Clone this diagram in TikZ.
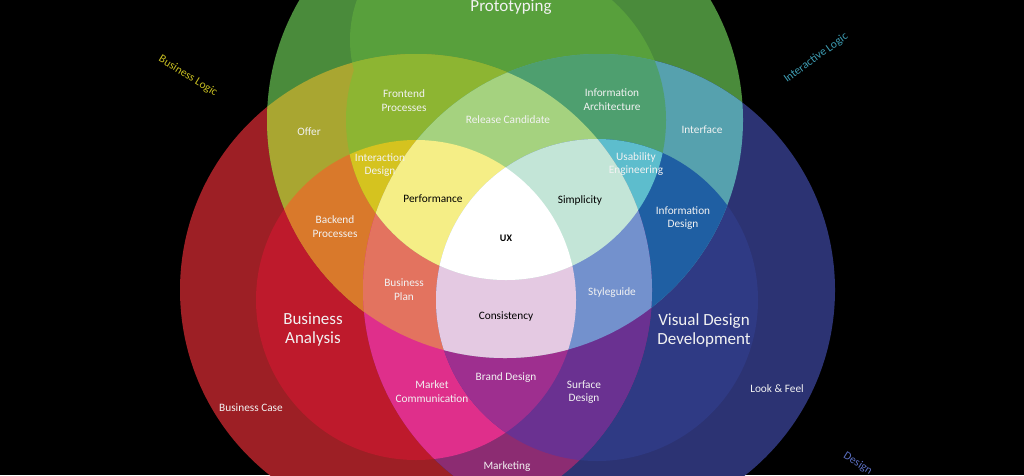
\documentclass[tikz,border=0pt]{standalone}
\usepackage{fontspec}
\setmainfont{Carlito}
\definecolor{cGa}{HTML}{4A8B3B}
\definecolor{cGb}{HTML}{58A03C}
\definecolor{cRa}{HTML}{9D1F25}
\definecolor{cRb}{HTML}{BE1A2C}
\definecolor{cBa}{HTML}{2C3373}
\definecolor{cBb}{HTML}{2F3A84}
\definecolor{cOffer}{HTML}{A9A631}
\definecolor{cIface}{HTML}{56A1AE}
\definecolor{cMarketing}{HTML}{8C2C72}
\definecolor{cBackend}{HTML}{D9792B}
\definecolor{cFrontend}{HTML}{8DB532}
\definecolor{cInfoArch}{HTML}{4E9F6F}
\definecolor{cInfoDes}{HTML}{1F5FA3}
\definecolor{cMarketCom}{HTML}{DF2F8B}
\definecolor{cSurface}{HTML}{6A3191}
\definecolor{cInteract}{HTML}{D5C31F}
\definecolor{cUsab}{HTML}{5DBDCD}
\definecolor{cBrand}{HTML}{9E2F8F}
\definecolor{cBPlan}{HTML}{E3735F}
\definecolor{cRelCand}{HTML}{A5D27F}
\definecolor{cStyle}{HTML}{7391CD}
\definecolor{cPerf}{HTML}{F5EE86}
\definecolor{cCons}{HTML}{E4C9E2}
\definecolor{cSimp}{HTML}{C3E5D7}
\definecolor{cTxt}{HTML}{F2F2F2}
\definecolor{cBL}{HTML}{C8BF22}
\definecolor{cIL}{HTML}{3E9EB4}
\definecolor{cDL}{HTML}{5A6EC0}
\def\GA{(505,120) circle (238pt)}
\def\GB{(506,120) circle (160pt) (470,40) circle (120pt)}
\def\RA{(416,290) circle (236pt)}
\def\RB{(416,300) circle (160pt)}
\def\BA{(599,290) circle (236pt)}
\def\BB{(597,300) circle (161pt)}
\begin{document}
\begin{tikzpicture}[x=1pt,y=-1pt,
  lbl/.style={text=cTxt, font=\fontsize{11.3}{13.8}\selectfont, align=center, inner sep=0pt},
  lblk/.style={text=black, font=\fontsize{11.3}{13.8}\selectfont, align=center, inner sep=0pt},
  biglbl/.style={text=cTxt, font=\fontsize{17}{19}\selectfont, align=center, inner sep=0pt},
  sidelbl/.style={font=\fontsize{11.5}{13}\selectfont, inner sep=0pt}]
\useasboundingbox (0,0) rectangle (1024,475);
\clip (0,0) rectangle (1024,475);
\fill[black] (0,0) rectangle (1024,475);
% level 1
\fill[cRa] \RA;
\fill[cGa] \GA;
\fill[cBa] \BA;
% level 2
\fill[cRb] \RB;
\fill[cGb] \GB;
\fill[cBb] \BB;
\begin{scope}\clip \GA; \fill[cOffer] \RA; \end{scope}
\begin{scope}\clip \GA; \fill[cIface] \BA; \end{scope}
\begin{scope}\clip \RA; \fill[cMarketing] \BA; \end{scope}
% level 3
\begin{scope}\clip \RB; \fill[cBackend] \GA; \end{scope}
\begin{scope}\clip \RA; \fill[cFrontend] \GB; \end{scope}
\begin{scope}\clip \BA; \fill[cInfoArch] \GB; \end{scope}
\begin{scope}\clip \GA; \fill[cInfoDes] \BB; \end{scope}
\begin{scope}\clip \BA; \fill[cMarketCom] \RB; \end{scope}
\begin{scope}\clip \RA; \fill[cSurface] \BB; \end{scope}
% level 4
\begin{scope}\clip \RB; \fill[cInteract] \GB; \end{scope}
\begin{scope}\clip \BB; \fill[cUsab] \GB; \end{scope}
\begin{scope}\clip \RB; \fill[cBrand] \BB; \end{scope}
\begin{scope}\clip \RB; \clip \GA; \fill[cBPlan] \BA; \end{scope}
\begin{scope}\clip \RA; \clip \BA; \fill[cRelCand] \GB; \end{scope}
\begin{scope}\clip \RA; \clip \GA; \fill[cStyle] \BB; \end{scope}
% level 5
\begin{scope}\clip \RB; \clip \BA; \fill[cPerf] \GB; \end{scope}
\begin{scope}\clip \RB; \clip \GA; \fill[cCons] \BB; \end{scope}
\begin{scope}\clip \RA; \clip \BB; \fill[cSimp] \GB; \end{scope}
% level 6
\begin{scope}\clip \RB; \clip \BB; \fill[white] \GB; \end{scope}
% labels
\node[biglbl, anchor=base] (proto) at (511,11) {Prototyping};
\node[biglbl] (ba) at (313,330) {Business\\Analysis};
\node[biglbl] (vdd) at (704,330) {Visual Design\\Development};
\node[lbl] (offer) at (309,132) {Offer};
\node[lbl] (front) at (404,101) {Frontend\\Processes};
\node[lbl] (relc) at (508,120) {Release Candidate};
\node[lbl] (iarch) at (612,100) {Information\\Architecture};
\node[lbl] (iface) at (702,130) {Interface};
\node[lbl] (intd) at (380,165) {Interaction\\Design};
\node[lbl] (usab) at (636,164) {Usability\\Engineering};
\node[lblk] (perf) at (433,199) {Performance};
\node[lblk] (simp) at (580,200) {Simplicity};
\node[lbl] (back) at (335,227) {Backend\\Processes};
\node[lbl] (ides) at (683,218) {Information\\Design};
\node[lblk, font=\bfseries\fontsize{10}{12}\selectfont] (ux) at (506,238) {UX};
\node[lbl] (bplan) at (404,290) {Business\\Plan};
\node[lbl] (style) at (612,293) {Styleguide};
\node[lblk] (cons) at (506,317) {Consistency};
\node[lbl] (mcom) at (432,392) {Market\\Communication};
\node[lbl] (brand) at (506,378) {Brand Design};
\node[lbl] (surf) at (584,392) {Surface\\Design};
\node[lbl] (bcase) at (251,408) {Business Case};
\node[lbl] (look) at (777,389) {Look \& Feel};
\node[lbl] (mkt) at (507,467) {Marketing};
\node[sidelbl, text=cBL, rotate=-32] (blogic) at (188,76) {Business Logic};
\node[sidelbl, text=cIL, rotate=36] (ilogic) at (816,58) {Interactive Logic};
\node[sidelbl, text=cDL, rotate=-32, anchor=north west] (dlogic) at (847,451) {Design};
\end{tikzpicture}
\end{document}
